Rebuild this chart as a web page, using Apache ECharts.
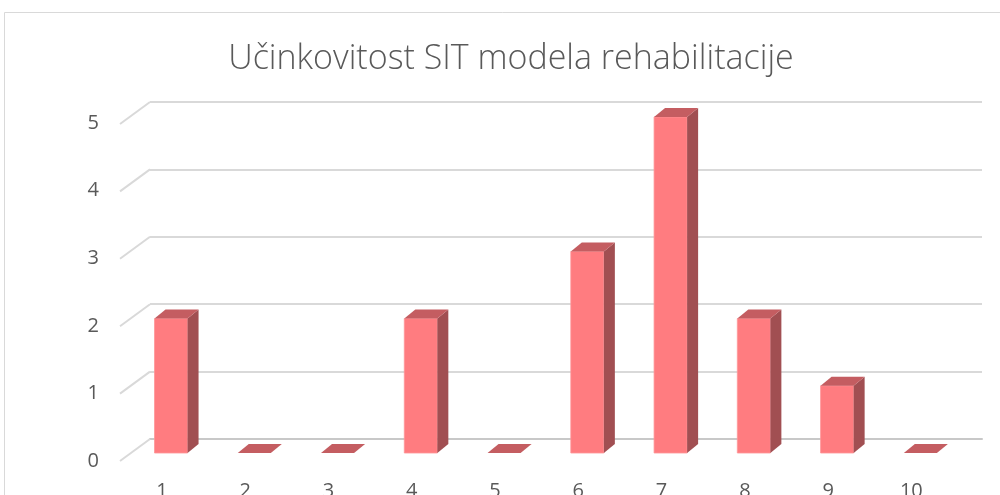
<!DOCTYPE html>
<html>
<head>
<meta charset="utf-8">
<script src="https://cdn.jsdelivr.net/npm/echarts@6/dist/echarts.min.js"></script>
<style>html,body{margin:0;padding:0;background:#fff;}#c{width:1000px;height:495px;}</style>
</head>
<body>
<div id="c"></div>
<script>
var titleText = 'Učinkovitost SIT modela rehabilitacije';
var categories = ['1','2','3','4','5','6','7','8','9','10'];
var values = [2, 0, 0, 2, 0, 3, 5, 2, 1, 0];
var yTicks = [0, 1, 2, 3, 4, 5];

var chart = echarts.init(document.getElementById('c'), null, {renderer: 'canvas'});
var FONT = 'Open Sans';
var DX = 11, DY = 9;

var option = {
  backgroundColor: '#ffffff',
  animation: false,
  graphic: [{
    type: 'rect', shape: {x: 4.5, y: 12.5, width: 1000, height: 500},
    style: {fill: 'none', stroke: '#d9d9d9', lineWidth: 1}, silent: true, z: -10
  }, {
    type: 'text', x: 511, y: 42, silent: true,
    style: {text: titleText, fontFamily: FONT, fontWeight: 300, fontSize: 34, fill: '#595959',
            textAlign: 'center', textVerticalAlign: 'top'}
  }],
  grid: [
    {left: 129.4, right: 38, top: 117, bottom: 42, outerBoundsMode: 'none', containLabel: false},
    {left: 150, right: 18, top: 102, bottom: 56, outerBoundsMode: 'none', containLabel: false},
    {left: 120, right: 48, top: 123, bottom: 34, outerBoundsMode: 'none', containLabel: false}
  ],
  xAxis: [
    {gridIndex: 0, type: 'category', data: categories,
     axisLine: {show: false}, axisTick: {show: false}, splitLine: {show: false},
     axisLabel: {fontFamily: FONT, fontSize: 20, color: '#595959', margin: 28, padding: [0, 18, 0, 0]}},
    {gridIndex: 1, type: 'value', min: 0, max: 1, show: true,
     axisLine: {show: true, onZero: false, lineStyle: {color: '#c8c8c8', width: 2}},
     axisTick: {show: false}, axisLabel: {show: false}, splitLine: {show: false}},
    {gridIndex: 2, type: 'value', min: 0, max: 1, show: false}
  ],
  yAxis: [
    {gridIndex: 0, type: 'value', min: 0, max: 5, interval: 1, show: false},
    {gridIndex: 1, type: 'value', min: 0, max: 5, interval: 1,
     axisLine: {show: false}, axisTick: {show: false}, axisLabel: {show: false},
     splitLine: {show: true, lineStyle: {color: '#d9d9d9', width: 2}}},
    {gridIndex: 2, type: 'value', min: 0, max: 5, interval: 1,
     axisLine: {show: false}, axisTick: {show: false}, splitLine: {show: false},
     axisLabel: {fontFamily: FONT, fontSize: 20, color: '#595959', margin: 21}}
  ],
  series: [
    {
      type: 'custom', xAxisIndex: 1, yAxisIndex: 1, silent: true, z: 1,
      data: yTicks.map(function (t) { return [0, t]; }),
      renderItem: function (params, api) {
        var p = api.coord([0, api.value(1)]);
        return {type: 'line', shape: {x1: p[0] - 30, y1: p[1] + 22, x2: p[0], y2: p[1]},
                style: {stroke: '#d9d9d9', lineWidth: 2}};
      }
    },
    {
      type: 'custom', xAxisIndex: 0, yAxisIndex: 0, silent: true, z: 5,
      data: values.map(function (v, i) { return [i, v]; }),
      renderItem: function (params, api) {
        var idx = api.value(0), v = api.value(1);
        var p0 = api.coord([idx, 0]);
        var p1 = api.coord([idx, v]);
        var w = api.size([1, 0])[0] * 0.397;
        var xl = p0[0] - w / 2, xr = p0[0] + w / 2;
        var yb = p0[1], yt = p1[1];
        var children = [];
        if (yb - yt > 0.5) {
          children.push({type: 'rect', shape: {x: xl, y: yt, width: w, height: yb - yt},
                         style: {fill: '#ff7c80', stroke: '#ff9598', lineWidth: 0.8}});
          children.push({type: 'polygon', shape: {points: [[xr, yt], [xr + DX, yt - DY], [xr + DX, yb - DY], [xr, yb]]},
                         style: {fill: '#a14f52'}});
        }
        children.push({type: 'polygon', shape: {points: [[xl, yt], [xr, yt], [xr + DX, yt - DY], [xl + DX, yt - DY]]},
                       style: {fill: '#c45d61'}});
        return {type: 'group', children: children};
      }
    }
  ]
};
chart.setOption(option);
</script>
</body>
</html>
